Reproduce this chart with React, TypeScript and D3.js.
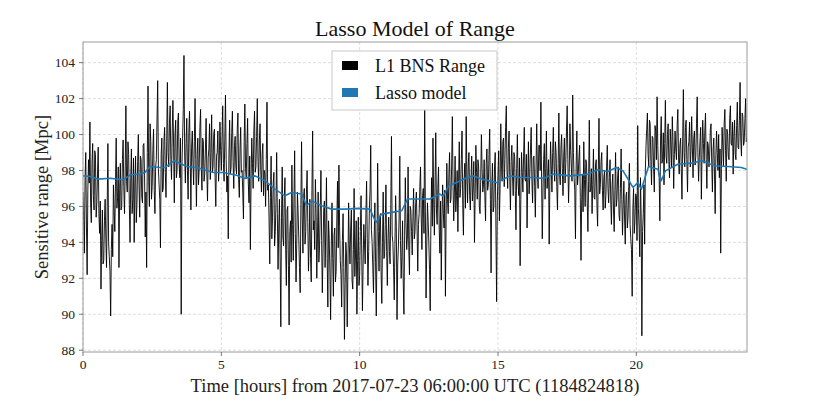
import * as d3 from "d3";

// L1 BNS range, one sample every 1.5 minutes (40 per hour)
const rangeMpc: number[] = [
  96.8, 95.2, 93.4, 97.6, 99.0, 94.8, 92.2, 96.9, 98.6, 97.3, 100.7, 96.2, 95.1, 98.4, 99.5, 96.6, 95.8, 99.1, 98.9, 95.4,
  96.2, 97.8, 99.3, 95.6, 94.5, 96.3, 91.4, 94.1, 95.8, 92.8, 93.0, 95.2, 96.4, 94.3, 92.6, 96.0, 99.5, 94.0, 93.2, 92.4,
  89.9, 93.6, 95.0, 93.2, 97.2, 95.8, 94.6, 97.4, 99.8, 95.9, 96.5, 98.2, 92.6, 97.0, 98.4, 95.8, 96.0, 98.6, 99.7, 97.1,
  95.6, 98.0, 101.6, 97.4, 96.8, 99.6, 98.9, 96.1, 94.0, 97.6, 99.2, 95.6, 96.4, 98.7, 94.0, 97.3, 98.8, 95.1, 96.1, 98.5,
  100.0, 97.2, 95.4, 98.8, 98.6, 96.5, 96.2, 99.4, 99.5, 97.7, 94.3, 96.8, 92.6, 99.0, 102.7, 97.4, 96.0, 100.6, 99.6, 96.4,
  97.1, 99.1, 100.3, 96.9, 95.6, 98.2, 98.6, 100.8, 103.0, 98.1, 97.2, 96.4, 93.7, 98.9, 99.8, 96.8, 97.0, 99.6, 100.4, 97.9,
  96.5, 99.6, 102.9, 99.0, 98.2, 100.6, 101.6, 98.6, 97.5, 100.2, 101.9, 99.3, 96.2, 100.0, 100.8, 97.6, 98.0, 100.7, 101.2, 98.3,
  97.6, 99.8, 90.0, 98.2, 99.8, 101.4, 104.4, 98.8, 97.3, 99.5, 100.9, 98.0, 96.4, 100.1, 101.3, 98.7, 95.8, 99.3, 100.2, 98.4,
  97.2, 99.6, 102.0, 98.6, 96.0, 98.9, 99.8, 97.2, 98.1, 100.4, 101.4, 98.2, 96.9, 99.8, 99.6, 97.4, 97.8, 99.2, 100.9, 98.0,
  96.3, 98.7, 99.2, 100.6, 97.5, 99.0, 101.1, 97.9, 98.2, 100.0, 100.3, 97.6, 96.0, 98.8, 99.0, 100.2, 97.4, 98.4, 100.7, 99.1,
  98.0, 99.8, 101.6, 98.4, 97.4, 99.7, 102.2, 98.6, 96.8, 97.7, 94.2, 98.9, 100.8, 97.8, 98.1, 100.1, 101.3, 98.5, 97.0, 99.4,
  99.9, 98.2, 97.8, 100.3, 101.2, 97.5, 96.5, 99.2, 100.4, 97.9, 98.0, 96.8, 95.3, 99.6, 101.7, 98.1, 97.6, 99.5, 100.9, 97.3,
  96.2, 98.8, 93.6, 97.5, 99.8, 98.4, 97.0, 100.2, 101.3, 97.9, 98.2, 99.9, 102.0, 98.5, 97.4, 99.7, 100.6, 98.0, 96.8, 98.9,
  99.5, 96.6, 98.0, 97.8, 96.0, 98.6, 101.8, 96.9, 97.2, 95.3, 92.8, 96.5, 98.8, 94.2, 95.4, 97.3, 97.9, 93.8, 94.6, 96.2,
  99.0, 95.6, 92.5, 94.8, 96.4, 93.2, 89.3, 95.4, 98.2, 94.3, 93.8, 96.5, 97.6, 93.6, 91.6, 95.8, 96.0, 92.7, 89.4, 94.6,
  95.2, 92.9, 98.3, 95.0, 93.0, 96.4, 99.1, 94.5, 91.8, 93.9, 96.8, 95.7, 94.2, 92.6, 91.2, 96.1, 99.6, 95.3, 93.4, 96.6,
  97.0, 93.9, 94.6, 96.7, 98.0, 95.1, 92.4, 94.0, 96.4, 93.1, 91.8, 96.9, 100.2, 94.7, 95.2, 93.6, 97.5, 95.6, 92.0, 94.3,
  96.8, 92.9, 93.8, 95.8, 98.0, 94.1, 91.2, 93.4, 95.8, 96.3, 92.6, 94.7, 97.6, 93.1, 90.4, 95.2, 94.2, 92.3, 89.7, 93.8,
  96.2, 93.1, 91.0, 94.4, 94.8, 91.8, 92.4, 95.3, 97.4, 93.7, 98.3, 94.9, 93.0, 92.2, 90.4, 94.1, 95.6, 92.6, 88.6, 91.7,
  94.0, 93.3, 89.3, 92.4, 96.2, 93.9, 92.8, 94.8, 95.8, 91.9, 91.4, 93.6, 97.0, 92.1, 93.4, 95.2, 90.0, 93.0, 95.4, 91.6,
  92.2, 94.6, 96.6, 93.4, 90.2, 92.8, 95.0, 93.9, 92.8, 95.6, 97.4, 94.2, 91.6, 93.5, 95.8, 96.9, 99.4, 94.7, 94.0, 92.6,
  91.2, 94.3, 96.2, 92.9, 89.9, 93.7, 98.4, 94.6, 92.4, 95.3, 95.6, 92.3, 90.6, 94.0, 96.8, 93.1, 93.2, 95.0, 97.2, 93.5,
  91.6, 94.2, 95.4, 93.5, 92.8, 96.1, 99.9, 94.4, 94.0, 92.6, 90.8, 93.9, 96.6, 94.9, 89.7, 92.8, 93.8, 95.3, 98.8, 94.1,
  92.0, 93.2, 95.2, 91.8, 90.0, 94.4, 97.6, 95.1, 93.6, 94.3, 98.2, 93.7, 92.2, 96.0, 95.8, 94.6, 93.3, 95.4, 97.0, 94.2,
  94.6, 96.2, 96.8, 94.8, 92.4, 95.0, 95.6, 97.1, 98.2, 95.4, 93.6, 96.6, 97.0, 94.5, 101.4, 95.7, 90.9, 93.8, 96.2, 95.2,
  94.0, 92.5, 90.2, 95.3, 97.6, 94.9, 99.8, 96.4, 94.4, 97.3, 100.1, 95.8, 95.0, 97.0, 98.2, 94.7, 93.4, 96.3, 91.9, 95.4,
  97.2, 95.6, 94.8, 96.9, 91.0, 95.5, 98.4, 96.4, 95.6, 97.8, 99.0, 96.2, 96.4, 98.3, 101.0, 97.1, 95.2, 96.8, 98.8, 95.7,
  96.6, 98.0, 94.6, 97.4, 99.6, 96.5, 97.0, 98.6, 100.2, 96.1, 94.4, 97.5, 98.4, 95.9, 101.0, 97.7, 96.2, 98.3, 99.0, 96.6,
  95.8, 97.6, 98.8, 96.3, 97.0, 98.5, 94.0, 96.7, 99.4, 97.9, 96.4, 98.6, 98.2, 96.0, 95.6, 97.5, 100.0, 98.1, 96.8, 97.2,
  98.6, 96.6, 95.2, 98.4, 99.2, 96.9, 97.2, 98.9, 100.3, 96.4, 92.3, 97.1, 98.4, 95.7, 96.0, 98.2, 99.0, 94.8, 90.7, 96.2,
  97.8, 99.1, 95.2, 97.0, 100.6, 98.3, 97.4, 99.6, 99.8, 97.1, 98.6, 100.4, 101.6, 98.0, 97.0, 99.3, 100.2, 97.6, 95.8, 98.5,
  99.4, 97.7, 96.6, 99.0, 98.8, 96.9, 94.7, 98.1, 100.0, 97.3, 96.6, 98.7, 92.7, 96.4, 99.0, 97.9, 96.8, 98.8, 100.4, 97.5,
  97.4, 98.9, 94.8, 97.3, 99.6, 96.7, 97.8, 99.2, 100.4, 97.4, 96.2, 98.7, 98.8, 97.1, 95.4, 98.2, 100.6, 97.8, 97.0, 99.4,
  99.4, 98.0, 101.8, 97.6, 94.2, 96.8, 98.6, 99.5, 96.4, 98.1, 100.2, 97.0, 97.8, 98.6, 93.9, 97.4, 99.6, 98.3, 96.8, 99.0,
  100.4, 98.2, 97.4, 99.6, 99.0, 97.1, 95.8, 98.4, 101.2, 97.8, 97.2, 99.3, 100.0, 98.1, 96.6, 98.8, 99.8, 97.3, 98.4, 100.2,
  101.6, 98.6, 96.2, 97.9, 100.6, 99.1, 98.2, 97.4, 102.2, 99.0, 97.6, 96.9, 94.2, 98.3, 100.2, 97.2, 97.8, 98.7, 99.4, 96.5,
  93.0, 96.4, 97.8, 95.7, 99.6, 97.5, 96.0, 98.6, 98.4, 96.2, 94.6, 97.4, 100.8, 96.8, 97.0, 98.1, 95.6, 97.2, 99.2, 96.5,
  96.4, 98.3, 98.6, 96.1, 94.9, 97.9, 100.9, 96.7, 97.2, 98.5, 99.0, 96.9, 95.8, 97.6, 98.0, 95.9, 96.6, 98.2, 99.4, 97.0,
  96.2, 97.6, 98.6, 96.3, 95.0, 97.2, 97.8, 95.8, 94.6, 96.9, 99.0, 96.0, 96.4, 97.7, 98.2, 95.5, 95.2, 97.0, 99.2, 96.4,
  94.4, 96.1, 97.4, 95.3, 93.9, 96.6, 96.8, 94.8, 95.4, 97.1, 98.4, 95.0, 94.2, 93.6, 91.0, 95.9, 97.0, 94.5, 95.2, 96.7,
  96.6, 94.1, 100.5, 95.9, 94.8, 93.2, 97.6, 95.4, 88.8, 94.6, 95.6, 97.2, 93.9, 98.0, 99.4, 100.3, 101.2, 98.9, 98.2, 100.8,
  100.6, 98.5, 97.2, 99.9, 99.8, 98.1, 96.8, 100.5, 100.2, 98.6, 102.1, 99.4, 98.0, 97.6, 95.2, 99.7, 101.0, 98.4, 98.6, 100.1,
  97.2, 99.5, 101.9, 98.8, 98.4, 100.0, 100.6, 98.5, 97.6, 100.3, 99.4, 98.2, 101.0, 99.6, 97.0, 98.9, 100.2, 99.2, 98.6, 100.5,
  101.4, 98.7, 97.8, 99.4, 99.8, 98.1, 96.4, 99.7, 102.5, 99.0, 98.2, 100.4, 100.8, 98.6, 96.8, 99.3, 99.6, 100.7, 98.2, 99.1,
  101.0, 99.3, 97.6, 99.8, 100.2, 98.3, 98.8, 100.6, 102.1, 99.0, 97.4, 98.7, 99.6, 100.4, 96.4, 98.9, 100.8, 99.5, 98.4, 100.2,
  101.2, 98.6, 97.0, 99.6, 99.4, 98.2, 98.8, 100.3, 100.6, 98.4, 96.8, 99.2, 99.8, 97.8, 95.6, 98.9, 100.2, 99.0, 98.0, 100.0,
  97.6, 99.2, 93.4, 98.1, 100.4, 99.4, 98.2, 100.6, 101.4, 99.1, 97.4, 100.3, 100.0, 98.8, 98.6, 100.9, 101.6, 99.5, 99.4, 100.7,
  97.8, 99.9, 100.8, 98.9, 98.6, 100.5, 101.8, 99.3, 99.2, 100.8, 102.9, 99.7, 98.8, 101.2, 101.0, 99.4, 99.6, 100.9, 102.0, 99.6,
  99.8,
];
const sampleStep = 0.025; // hours between samples

// Lasso model trace
const lassoHours = [
  0, 0.25, 0.55, 0.98, 1.46, 1.7, 2.06, 2.24, 2.42, 2.78, 2.96, 3.3, 3.75, 4.11, 4.71, 5.07, 5.55, 5.86,
  6.22, 6.58, 6.94, 7.3, 7.54, 7.9, 8.08, 8.27, 8.63, 8.99, 9.47, 9.95, 10.37, 10.59, 10.79, 11.16, 11.52, 11.73,
  12.18, 12.54, 12.9, 13.02, 13.21, 13.51, 13.75, 14.11, 14.41, 14.95, 15.43, 15.8, 16.28, 16.64, 17.0, 17.6,
  17.89, 18.25, 18.61, 18.97, 19.28, 19.52, 19.7, 19.88, 20.06, 20.18, 20.3, 20.44, 20.78, 20.9, 21.05, 21.5,
  21.99, 22.37, 22.83, 23.31, 23.79, 24.0,
];
const lassoMpc = [
  97.7, 97.67, 97.52, 97.57, 97.48, 97.76, 97.8, 97.89, 98.22, 98.17, 98.17, 98.54, 98.22, 98.17, 97.89, 97.89, 97.74, 97.56,
  97.7, 97.43, 96.96, 96.59, 96.78, 96.69, 96.04, 96.31, 96.04, 95.85, 95.85, 95.89, 95.85, 95.11, 95.57, 95.67, 95.76, 96.41,
  96.41, 96.41, 96.69, 96.56, 97.15, 97.33, 97.52, 97.7, 97.52, 97.33, 97.7, 97.61, 97.61, 97.56, 97.8, 97.7,
  97.74, 97.8, 98.04, 97.94, 98.17, 97.98, 97.52, 97.06, 97.33, 96.96, 97.52, 98.22, 98.07, 97.43, 97.98, 98.35,
  98.41, 98.54, 98.26, 98.22, 98.17, 98.07,
];

const xTicks = [0, 5, 10, 15, 20];
const yTicks = [88, 90, 92, 94, 96, 98, 100, 102, 104];
const legendLabels = ["L1 BNS Range", "Lasso model"];
const seriesColors = ["#000000", "#1f77b4"];

const width = 830;
const height = 415;
const margin = { top: 42, right: 83, bottom: 63, left: 83 };
const font = "'Liberation Serif', 'Times New Roman', serif";

export default function App() {
  const innerW = width - margin.left - margin.right;
  const innerH = height - margin.top - margin.bottom;

  const x = d3.scaleLinear().domain([0, 24]).range([0, innerW]);
  const y = d3.scaleLinear().domain([87.9, 105.15]).range([innerH, 0]);

  const rangeLine = d3
    .line<number>()
    .x((_, i) => x(i * sampleStep))
    .y((d) => y(d));
  const lassoLine = d3
    .line<number>()
    .x((_, i) => x(lassoHours[i]))
    .y((d) => y(d));

  return (
    <div style={{ position: "fixed", left: 0, top: 0 }}>
      <svg width={width} height={height} style={{ display: "block", background: "#fff" }}>
        <text
          x={margin.left + innerW / 2}
          y={36}
          textAnchor="middle"
          fontFamily={font}
          fontSize={22}
          fill="#111"
        >
          Lasso Model of Range
        </text>
        <g transform={`translate(${margin.left},${margin.top})`}>
          {/* grid */}
          {xTicks.map((t) => (
            <line key={"gx" + t} x1={x(t)} x2={x(t)} y1={0} y2={innerH}
              stroke="#d4d4d4" strokeWidth={0.8} strokeDasharray="3,2" />
          ))}
          {yTicks.map((t) => (
            <line key={"gy" + t} x1={0} x2={innerW} y1={y(t)} y2={y(t)}
              stroke="#d4d4d4" strokeWidth={0.8} strokeDasharray="3,2" />
          ))}

          <defs>
            <clipPath id="plot-clip">
              <rect x={0} y={0} width={innerW} height={innerH} />
            </clipPath>
          </defs>
          <g clipPath="url(#plot-clip)">
            <path d={rangeLine(rangeMpc) ?? ""} fill="none" stroke={seriesColors[0]} strokeWidth={0.9} strokeLinejoin="round" />
            <path d={lassoLine(lassoMpc) ?? ""} fill="none" stroke={seriesColors[1]} strokeWidth={1.6} strokeLinejoin="round" />
          </g>

          {/* frame */}
          <rect x={0} y={0} width={innerW} height={innerH} fill="none" stroke="#9a9a9a" strokeWidth={1} />

          {/* x axis */}
          {xTicks.map((t) => (
            <g key={"xt" + t} transform={`translate(${x(t)},${innerH})`}>
              <line y1={0} y2={4} stroke="#555" strokeWidth={0.8} />
              <text y={17} textAnchor="middle" fontFamily={font} fontSize={13.5} fill="#222">
                {t}
              </text>
            </g>
          ))}
          {/* y axis */}
          {yTicks.map((t) => (
            <g key={"yt" + t} transform={`translate(0,${y(t)})`}>
              <line x1={0} x2={-4} stroke="#555" strokeWidth={0.8} />
              <text x={-8} dy="0.34em" textAnchor="end" fontFamily={font} fontSize={13.5} fill="#222">
                {t}
              </text>
            </g>
          ))}

          <text
            x={innerW / 2}
            y={innerH + 40}
            textAnchor="middle"
            fontFamily={font}
            fontSize={18.5}
            fill="#222"
          >
            Time [hours] from 2017-07-23 06:00:00 UTC (1184824818)
          </text>
          <text
            transform={`translate(${-35},${innerH / 2}) rotate(-90)`}
            textAnchor="middle"
            fontFamily={font}
            fontSize={18.5}
            fill="#222"
          >
            Sensitive range [Mpc]
          </text>

          {/* legend */}
          <g transform={`translate(${332 - margin.left},${51 - margin.top})`}>
            <rect x={0} y={0} width={165} height={59} fill="#fff" fillOpacity={0.85} stroke="#c8c8c8" strokeWidth={1} />
            {legendLabels.map((lab, i) => (
              <g key={lab} transform={`translate(0,${10 + i * 27})`}>
                <rect x={10} y={0} width={16} height={9} fill={seriesColors[i]} />
                <text x={43} y={11} fontFamily={font} fontSize={18} fill="#111">
                  {lab}
                </text>
              </g>
            ))}
          </g>
        </g>
      </svg>
    </div>
  );
}
